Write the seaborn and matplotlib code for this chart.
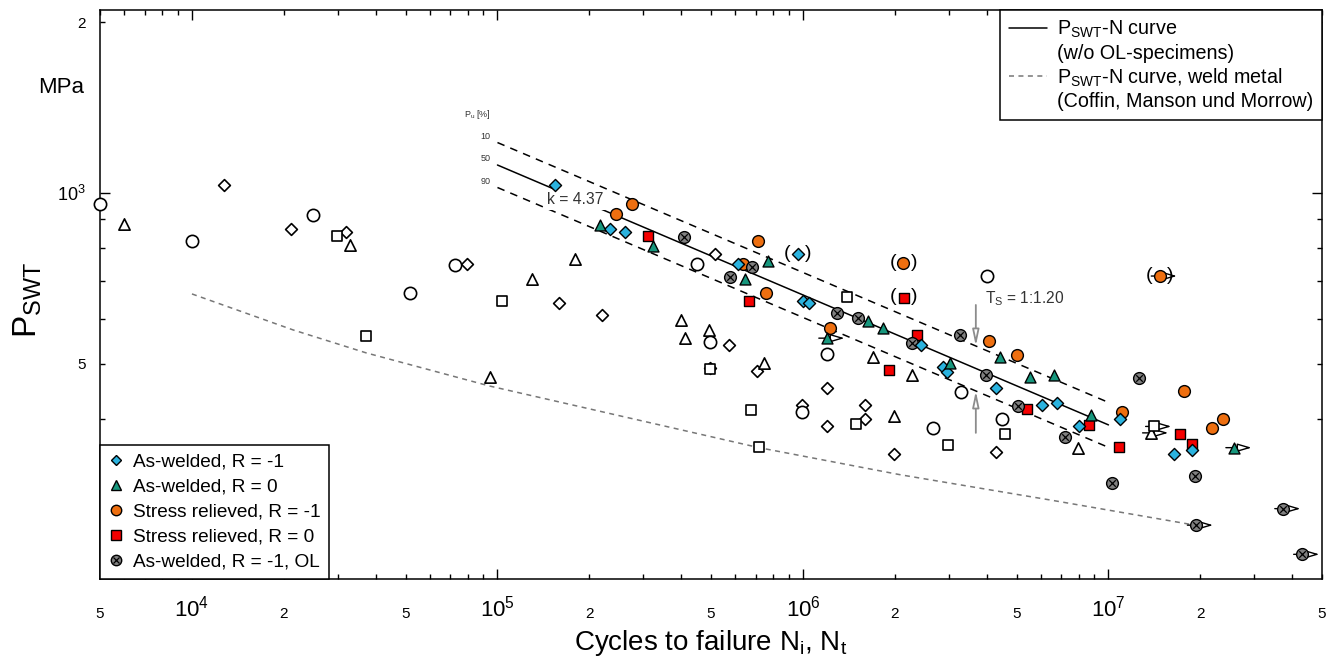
import numpy as np
import pandas as pd
import matplotlib
matplotlib.use("Agg")
import matplotlib.pyplot as plt
import matplotlib.ticker as mticker
from matplotlib.lines import Line2D
from matplotlib.transforms import offset_copy
import seaborn as sns

sns.set_style("ticks")
FONT = "Liberation Sans"
plt.rcParams["font.family"] = [FONT, "DejaVu Sans"]
plt.rcParams["mathtext.fontset"] = "custom"
plt.rcParams["mathtext.rm"] = FONT
plt.rcParams["mathtext.it"] = FONT + ":italic"
plt.rcParams["mathtext.bf"] = FONT + ":bold"
plt.rcParams["lines.scale_dashes"] = False
for key in ("text.color", "axes.labelcolor", "xtick.color", "ytick.color",
            "xtick.labelcolor", "ytick.labelcolor"):
    plt.rcParams[key] = "black"

# ---------------------------------------------------------------- data
# As-welded, R = -1 (failure)
aw_m1_N = [1.54e5, 2.33e5, 2.61e5, 6.13e5, 9.63e5, 1.00e6, 1.046e6, 2.43e6, 2.87e6,
           2.96e6, 4.28e6, 6.06e6, 6.78e6, 8.0e6, 1.09e7, 1.64e7, 1.88e7]
aw_m1_P = [1032, 865, 853, 750, 781, 646, 641, 540, 494, 484, 454, 424, 426, 389, 400, 347, 352]
aw_m1_bracket = [4]
aw_m1_runout = []

# As-welded, R = 0
aw_0_N = [2.17e5, 3.23e5, 6.46e5, 7.68e5, 1.63e6, 1.83e6, 1.20e6, 3.03e6, 4.41e6,
          5.53e6, 6.63e6, 8.76e6, 2.58e7]
aw_0_P = [879, 807, 705, 759, 595, 578, 555, 502, 514, 475, 478, 407, 356]
aw_0_bracket = []
aw_0_runout = [6, 12]

# Stress relieved, R = -1
sr_m1_N = [2.44e5, 2.76e5, 7.12e5, 6.36e5, 7.57e5, 1.23e6, 2.13e6, 4.06e6, 5.02e6,
           1.107e7, 1.47e7, 1.77e7, 2.18e7, 2.37e7]
sr_m1_P = [918, 957, 823, 750, 667, 578, 752, 549, 519, 412, 714, 448, 385, 400]
sr_m1_bracket = [6, 10]
sr_m1_runout = [10]

# Stress relieved, R = 0
sr_0_N = [3.11e5, 6.66e5, 1.91e6, 2.14e6, 2.36e6, 5.41e6, 8.63e6, 1.082e7, 1.71e7, 1.88e7]
sr_0_P = [840, 646, 488, 654, 562, 417, 391, 357, 377, 362]
sr_0_bracket = [3]
sr_0_runout = []

# As-welded, R = -1, overload (OL)
ol_N = [4.08e5, 5.77e5, 6.81e5, 1.29e6, 1.51e6, 2.27e6, 3.27e6, 3.97e6, 5.06e6,
        7.2e6, 1.027e7, 1.26e7, 1.92e7, 1.93e7, 3.73e7, 4.3e7]
ol_P = [836, 711, 740, 615, 602, 544, 562, 478, 422, 371, 309, 473, 317, 260, 278, 231]
ol_bracket = []
ol_runout = [13, 14, 15]

# Crack initiation (open symbols)
ini_aw_m1_N = [1.273e4, 2.109e4, 3.192e4, 7.948e4, 1.59e5, 2.198e5, 5.152e5, 5.725e5, 4.962e5,
               7.07e5, 1.2e6, 9.92e5, 1.2e6, 1.595e6, 1.595e6, 1.986e6, 4.28e6]
ini_aw_m1_P = [1032, 865, 853, 750, 641, 609, 781, 540, 492, 486, 454, 424, 389, 424, 400, 347, 350]
ini_aw_m1_runout = []

ini_aw_0_N = [5.99e3, 3.289e4, 9.45e4, 1.297e5, 1.793e5, 3.987e5, 4.924e5, 4.109e5, 7.45e5,
              1.695e6, 2.27e6, 1.986e6, 7.95e6, 1.377e7]
ini_aw_0_P = [882, 810, 475, 705, 766, 597, 574, 555, 502, 514, 478, 405, 356, 378]
ini_aw_0_runout = [13]

ini_sr_m1_N = [5.0e3, 1.0e4, 2.489e4, 5.171e4, 7.26e4, 4.498e5, 4.962e5, 1.2e6, 9.92e5,
               3.29e6, 2.665e6, 4.482e6, 4.003e6]
ini_sr_m1_P = [957, 823, 915, 667, 746, 750, 547, 521, 412, 446, 385, 400, 714]
ini_sr_m1_runout = []

ini_sr_0_N = [2.983e4, 3.711e4, 1.034e5, 4.962e5, 6.758e5, 7.178e5, 1.393e6, 1.491e6,
              2.984e6, 4.584e6, 1.409e7]
ini_sr_0_P = [840, 560, 646, 490, 415, 357, 656, 392, 360, 377, 388]
ini_sr_0_runout = [10]

# P_SWT-N curve (w/o OL specimens): slope k and 50 % value at N = 1e5
k_slope = 4.37
P50_ref = 1120.0
N_ref = 1e5
N_curve = [1e5, 1e7]
T_S = 1.20
survival_labels = ["10", "50", "90"]

# P_SWT-N curve of the weld metal (Coffin, Manson und Morrow)
cmm_N = [1e4, 2.14e4, 3.71e4, 9.44e4, 7.18e5, 2.08e6, 6.43e6, 1.92e7]
cmm_P = [664, 574, 523, 457, 356, 319, 288, 260]

# axis ticks
x_major = [1e4, 1e5, 1e6, 1e7]
x_major_labels = [r"$10^4$", r"$10^5$", r"$10^6$", r"$10^7$"]
x_minor = [m * 10.0 ** e for e in range(3, 8) for m in range(2, 10)
           if 5e3 <= m * 10.0 ** e <= 5e7]
x_minor_labels = ["2" if round(v / 10 ** np.floor(np.log10(v))) == 2 else
                  "5" if round(v / 10 ** np.floor(np.log10(v))) == 5 else "" for v in x_minor]
y_major = [1e3]
y_major_labels = [r"$10^3$"]
y_minor = [400, 500, 600, 700, 800, 900, 2000]
y_minor_labels = ["", "5", "", "", "", "", "2"]

legend_labels = ["As-welded, R = -1", "As-welded, R = 0", "Stress relieved, R = -1",
                 "Stress relieved, R = 0", "As-welded, R = -1, OL"]

# ---------------------------------------------------------------- styles
C_BLUE = "#2BB3DF"
C_GREEN = "#17977D"
C_ORANGE = "#EE6F10"
C_RED = "#F50000"
C_GRAY = "#808080"

fig = plt.figure(figsize=(13.35, 6.63), dpi=100)
ax = fig.add_axes([100 / 1335, 84 / 663, 1222 / 1335, 569 / 663])
ax.set_xscale("log")
ax.set_yscale("log")
ax.set_xlim(5e3, 5e7)
ax.set_ylim(209, 2100)


def frame(N, P):
    return pd.DataFrame({"N": N, "P": P})


def runout_arrows(N, P, idx):
    start = offset_copy(ax.transData, fig=fig, x=-6, y=0, units="points")
    end = offset_copy(ax.transData, fig=fig, x=12.5, y=0, units="points")
    for i in idx:
        ax.annotate("", xy=(N[i], P[i]), xycoords=end, xytext=(N[i], P[i]), textcoords=start,
                    arrowprops=dict(arrowstyle="-|>,head_length=0.85,head_width=0.25",
                                    fc="white", ec="black", lw=1.0, shrinkA=0, shrinkB=0),
                    zorder=3, annotation_clip=False)


def brackets(N, P, idx):
    for i in idx:
        for dx, s in ((-7.5, "("), (7.5, ")")):
            ax.annotate(s, xy=(N[i], P[i]), xytext=(dx, 0.5), textcoords="offset points",
                        ha="center", va="center", fontsize=14, color="black", zorder=3)


# open symbols (crack initiation)
open_series = [
    (ini_aw_m1_N, ini_aw_m1_P, ini_aw_m1_runout, "D", 36),
    (ini_aw_0_N, ini_aw_0_P, ini_aw_0_runout, "^", 66),
    (ini_sr_m1_N, ini_sr_m1_P, ini_sr_m1_runout, "o", 78),
    (ini_sr_0_N, ini_sr_0_P, ini_sr_0_runout, "s", 46),
]
for N, P, ro, mk, s in open_series:
    sns.scatterplot(data=frame(N, P), x="N", y="P", marker=mk, s=s, color="white",
                    edgecolor="black", linewidth=1.2, ax=ax, zorder=4, clip_on=False, legend=False)
    runout_arrows(N, P, ro)

# filled symbols (failure)
filled_series = [
    (sr_m1_N, sr_m1_P, sr_m1_runout, sr_m1_bracket, "o", 72, C_ORANGE, 5),
    (sr_0_N, sr_0_P, sr_0_runout, sr_0_bracket, "s", 48, C_RED, 6),
    (ol_N, ol_P, ol_runout, ol_bracket, "o", 72, C_GRAY, 7),
    (aw_m1_N, aw_m1_P, aw_m1_runout, aw_m1_bracket, "D", 38, C_BLUE, 8),
    (aw_0_N, aw_0_P, aw_0_runout, aw_0_bracket, "^", 62, C_GREEN, 9),
]
for N, P, ro, br, mk, s, col, z in filled_series:
    sns.scatterplot(data=frame(N, P), x="N", y="P", marker=mk, s=s, color=col,
                    edgecolor="black", linewidth=1.0, ax=ax, zorder=z, clip_on=False, legend=False)
    runout_arrows(N, P, ro)
    brackets(N, P, br)
# cross inside the overload circles
ax.scatter(ol_N, ol_P, marker="x", s=22, c="black", linewidths=0.9, zorder=7.5, clip_on=False)

# P_SWT-N curve with 10 / 50 / 90 % scatter band
Nc = np.array(N_curve)
P50 = P50_ref * (Nc / N_ref) ** (-1.0 / k_slope)
band = [P50 * np.sqrt(T_S), P50, P50 / np.sqrt(T_S)]
band_styles = [dict(ls=(0, (5.5, 4.5)), lw=1.1), dict(ls="-", lw=1.1), dict(ls=(0, (5.5, 4.5)), lw=1.1)]
for Pq, st, lab in zip(band, band_styles, survival_labels):
    sns.lineplot(x=Nc, y=Pq, color="black", ax=ax, zorder=2, **st)
    ax.annotate(lab, xy=(Nc[0], Pq[0]), xytext=(-5, 4.5), textcoords="offset points",
                ha="right", va="center", fontsize=6.5, color="#333333")
ax.annotate(r"P$_\mathregular{u}$ [%]", xy=(Nc[0], band[0][0]), xytext=(-5, 20),
            textcoords="offset points", ha="right", va="center", fontsize=6.5, color="#333333")

ax.text(1.45e5, 972, "k = 4.37", fontsize=11.3, color="#333333", ha="left", va="center",
        bbox=dict(fc="white", ec="none", pad=1.5), zorder=3)

# scatter band width indicator
N_ts = 3.68e6
P50_ts = P50_ref * (N_ts / N_ref) ** (-1.0 / k_slope)
ts_arrow = dict(arrowstyle="-|>,head_length=0.95,head_width=0.2", fc="white",
                ec="#8c8c8c", lw=1.3, shrinkA=0, shrinkB=0)
ax.annotate("", xy=(N_ts, P50_ts * np.sqrt(T_S)), xytext=(N_ts, 635), arrowprops=ts_arrow, zorder=3)
ax.annotate("", xy=(N_ts, P50_ts / np.sqrt(T_S)), xytext=(N_ts, 378), arrowprops=ts_arrow, zorder=3)
ax.text(3.94e6, 651, r"T$_\mathregular{S}$ = 1:1.20", fontsize=11.2, color="#333333",
        ha="left", va="center")

# weld metal curve
sns.lineplot(x=cmm_N, y=cmm_P, color="#777777", lw=1.1, ls=(0, (3.6, 3.2)), ax=ax, zorder=2)

# ---------------------------------------------------------------- axes
for sp in ax.spines.values():
    sp.set_visible(True)
    sp.set_linewidth(1.1)
    sp.set_color("black")

ax.xaxis.set_major_locator(mticker.FixedLocator(x_major))
ax.xaxis.set_major_formatter(mticker.FixedFormatter(x_major_labels))
ax.xaxis.set_minor_locator(mticker.FixedLocator(x_minor))
ax.xaxis.set_minor_formatter(mticker.FixedFormatter(x_minor_labels))
ax.yaxis.set_major_locator(mticker.FixedLocator(y_major))
ax.yaxis.set_major_formatter(mticker.FixedFormatter(y_major_labels))
ax.yaxis.set_minor_locator(mticker.FixedLocator(y_minor))
ax.yaxis.set_minor_formatter(mticker.FixedFormatter(y_minor_labels))

ax.tick_params(which="both", direction="in", top=True, right=True, width=1.0,
               color="black", labelcolor="black")
ax.tick_params(which="major", length=7.2)
ax.tick_params(which="minor", length=3.6)
ax.tick_params(axis="x", which="major", labelsize=16, pad=12)
ax.tick_params(axis="x", which="minor", labelsize=11, pad=20.5)
ax.tick_params(axis="y", which="major", labelsize=13, pad=10)
ax.tick_params(axis="y", which="minor", labelsize=11, pad=10.5)

ax.set_xlabel(r"Cycles to failure N$_\mathregular{i}$, N$_\mathregular{t}$", fontsize=20,
              va="center", color="black")
ax.xaxis.set_label_coords(0.5, -0.113)
ax.set_ylabel(r"P$_\mathregular{SWT}$", fontsize=24, va="center", color="black")
ax.yaxis.set_label_coords(-0.059, 0.49)
ax.text(-0.032, 0.863, "MPa", transform=ax.transAxes, fontsize=16, ha="center", va="center",
        color="black")

# ---------------------------------------------------------------- legends
h_blue = Line2D([], [], ls="none", marker="D", ms=5.5, mfc=C_BLUE, mec="black", mew=1.0)
h_green = Line2D([], [], ls="none", marker="^", ms=7, mfc=C_GREEN, mec="black", mew=1.0)
h_orange = Line2D([], [], ls="none", marker="o", ms=7.5, mfc=C_ORANGE, mec="black", mew=1.0)
h_red = Line2D([], [], ls="none", marker="s", ms=6.5, mfc=C_RED, mec="black", mew=1.0)
h_ol = (Line2D([], [], ls="none", marker="o", ms=7.5, mfc=C_GRAY, mec="black", mew=1.0),
        Line2D([], [], ls="none", marker="x", ms=4.2, mec="black", mew=0.9))
leg1 = ax.legend([h_blue, h_green, h_orange, h_red, h_ol], legend_labels,
                 loc="lower left", bbox_to_anchor=(0, 0), borderaxespad=0, fontsize=13.7,
                 frameon=True, fancybox=False, edgecolor="black", framealpha=1,
                 handlelength=0.8, handletextpad=0.5, labelspacing=0.4, borderpad=0.45,
                 labelcolor="black")
leg1.get_frame().set_linewidth(1.1)
leg1.set_zorder(10)
ax.add_artist(leg1)

blank = Line2D([], [], ls="none")
h_solid = Line2D([], [], color="black", lw=1.1)
h_gray = Line2D([], [], color="#777777", lw=1.1, ls=(0, (3.6, 3.2)))
leg2 = ax.legend([h_solid, blank, h_gray, blank],
                 [r"P$_\mathregular{SWT}$-N curve", "(w/o OL-specimens)",
                  r"P$_\mathregular{SWT}$-N curve, weld metal", "(Coffin, Manson und Morrow)"],
                 loc="upper right", bbox_to_anchor=(1, 1), borderaxespad=0, fontsize=14.2,
                 frameon=True, fancybox=False, edgecolor="black", framealpha=1,
                 handlelength=1.95, handletextpad=0.5, labelspacing=0.18, borderpad=0.45,
                 labelcolor="black")
leg2.get_frame().set_linewidth(1.1)
leg2.set_zorder(10)

fig.savefig("out.png", dpi=100, facecolor="white")
